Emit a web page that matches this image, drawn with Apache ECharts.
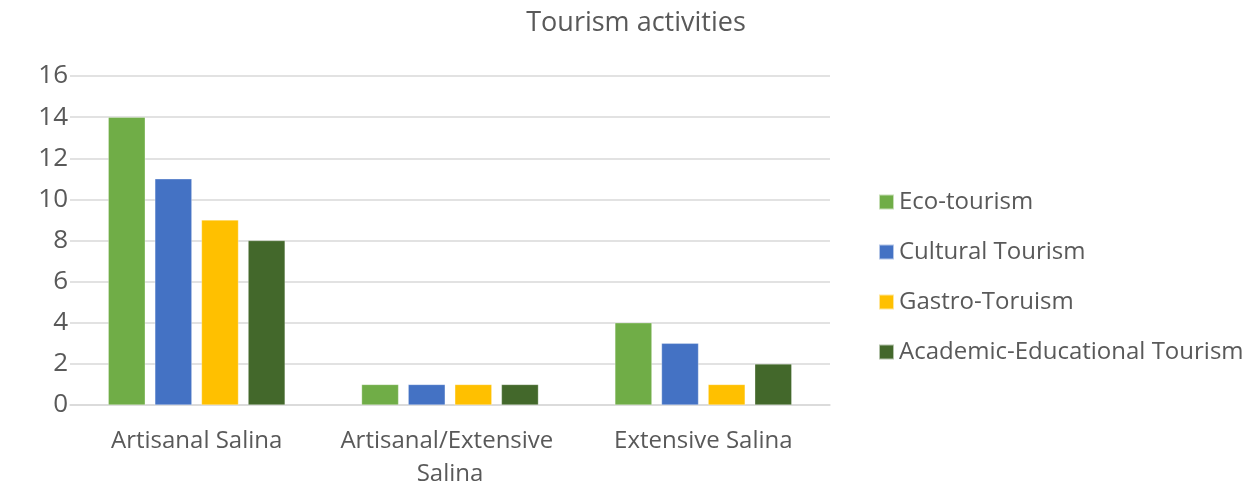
<!DOCTYPE html>
<html>
<head>
<meta charset="utf-8">
<script src="https://cdn.jsdelivr.net/npm/echarts@6/dist/echarts.min.js"></script>
<style>html,body{margin:0;padding:0;background:#fff;}#c{width:1258px;height:491px;}</style>
</head>
<body>
<div id="c"></div>
<script>
const categories = ["Artisanal Salina", "Artisanal/Extensive Salina", "Extensive Salina"];
const seriesNames = ["Eco-tourism", "Cultural Tourism", "Gastro-Toruism", "Academic-Educational Tourism"];
const ecoTourism = [14, 1, 4];
const culturalTourism = [11, 1, 3];
const gastroTourism = [9, 1, 1];
const academicTourism = [8, 1, 2];
const yTicks = [0, 2, 4, 6, 8, 10, 12, 14, 16];

const colors = ["#70AD47", "#4472C4", "#FFC000", "#43682B"];
const values = [ecoTourism, culturalTourism, gastroTourism, academicTourism];
const font = "Open Sans";
const textColor = "#595959";

const chart = echarts.init(document.getElementById('c'), null, {renderer: 'canvas'});
chart.setOption({
  animation: false,
  color: colors,
  title: {
    text: "Tourism activities",
    left: 631, top: 5, textAlign: 'center',
    textStyle: {fontFamily: font, fontSize: 27, fontWeight: 'normal', color: textColor}
  },
  legend: {
    orient: 'vertical',
    left: 873, top: 182,
    itemWidth: 15, itemHeight: 15, itemGap: 20,
    icon: 'rect',
    data: seriesNames,
    textStyle: {fontFamily: font, fontSize: 24, color: textColor, lineHeight: 30}
  },
  grid: {left: 70, right: 428, top: 76, bottom: 85, containLabel: false},
  xAxis: {
    type: 'category',
    data: categories,
    axisLine: {lineStyle: {color: '#D9D9D9', width: 1.5}},
    axisTick: {show: false},
    axisLabel: {
      interval: 0,
      fontFamily: font, fontSize: 24, color: textColor, margin: 20,
      width: 245, overflow: 'break', lineHeight: 33
    }
  },
  yAxis: {
    type: 'value',
    min: yTicks[0], max: yTicks[yTicks.length - 1], interval: 2,
    axisLine: {show: false},
    axisTick: {show: false},
    splitLine: {lineStyle: {color: '#D9D9D9', width: 1.5}},
    axisLabel: {fontFamily: font, fontSize: 26, color: textColor, margin: 2, align: 'right',
      formatter: v => String(v)}
  },
  series: seriesNames.map((n, i) => ({
    name: n,
    type: 'bar',
    data: values[i],
    barWidth: 37,
    barGap: '26%',
    itemStyle: {color: colors[i], borderColor: 'rgba(255,255,255,0.6)', borderWidth: 0.5}
  }))
});
</script>
</body>
</html>
